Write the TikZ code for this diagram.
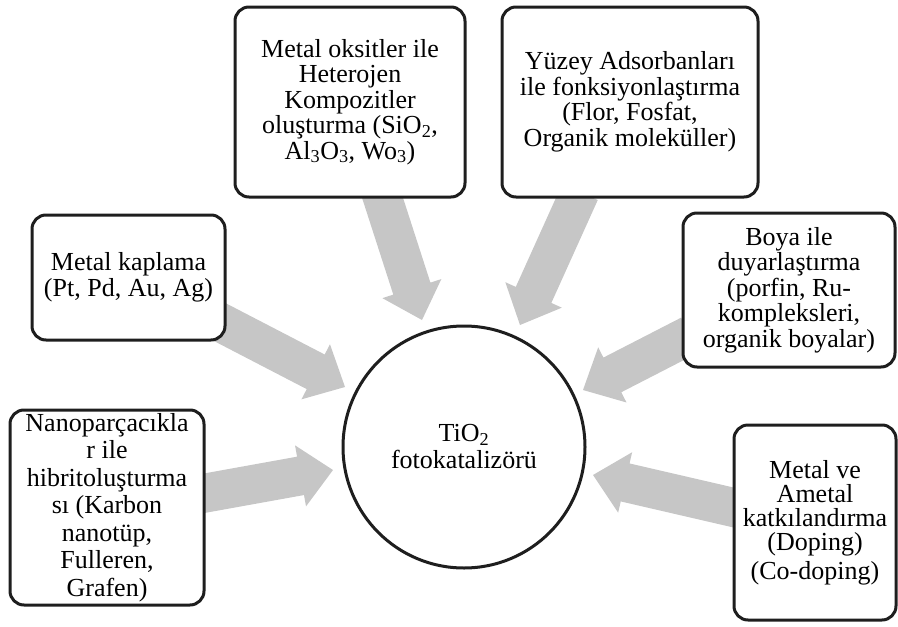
\documentclass[tikz,border=0pt]{standalone}
\usepackage{fontspec}
\setmainfont{Liberation Serif}
\usetikzlibrary{calc,backgrounds}
\definecolor{arrowgray}{RGB}{198,198,198}
\definecolor{boxline}{RGB}{30,30,30}
\newcommand\fatarrow[2]{%
  \coordinate (#2-b) at ($(#2)!33pt!(#1)$);
  \fill[arrowgray] ($(#1)!19.5pt!90:(#2)$) -- ($(#2-b)!19.5pt!90:(#2)$) -- ($(#2-b)!31pt!90:(#2)$) -- (#2) -- ($(#2-b)!31pt!-90:(#2)$) -- ($(#2-b)!19.5pt!-90:(#2)$) -- ($(#1)!19.5pt!-90:(#2)$) -- cycle;}
\tikzset{
  box/.style={draw=boxline, line width=3pt, rounded corners=14pt, fill=white,
    align=center, inner sep=0pt, font=\fontsize{26pt}{25.5pt}\selectfont},
  hub/.style={draw=boxline, line width=3pt, circle, fill=white, inner sep=0pt,
    align=center, font=\fontsize{26pt}{27pt}\selectfont}
}
\begin{document}
\begin{tikzpicture}[x=1pt,y=-1pt]
\useasboundingbox (0,0) rectangle (898,627);
\node[box, minimum width=230pt, minimum height=190pt] (M) at (350,102)
  {Metal oksitler ile\\Heterojen\\Kompozitler\\oluşturma (SiO\textsubscript{2},\\Al\textsubscript{3}O\textsubscript{3}, Wo\textsubscript{3})};
\node[box, minimum width=256pt, minimum height=190pt] (Y) at (630,102)
  {Yüzey Adsorbanları\\ile fonksiyonlaştırma\\(Flor, Fosfat,\\Organik moleküller)};
\node[box, minimum width=193pt, minimum height=125pt] (MK) at (128.5,277.5)
  {Metal kaplama\\(Pt, Pd, Au, Ag)};
\node[box, minimum width=212pt, minimum height=154pt] (B) at (789,290)
  {Boya ile\\duyarlaştırma\\(porfin, Ru-\\kompleksleri,\\organik boyalar)};
\node[box, minimum width=194pt, minimum height=195pt, font=\fontsize{26pt}{27.5pt}\selectfont] (N) at (107,507.5)
  {Nanoparçacıkla\\r ile\\hibritoluşturma\\sı (Karbon\\nanotüp,\\Fulleren,\\Grafen)};
\node[box, minimum width=162pt, minimum height=195pt, font=\fontsize{26pt}{24pt}\selectfont] (MV) at (815,522.5)
  {Metal ve\\Ametal\\katkılandırma\\(Doping)\\[5pt](Co-doping)};
\node[hub, minimum size=242pt] (C) at (464,447) {TiO\textsubscript{2}\\fotokatalizörü};
\coordinate (a1s) at (380,190); \coordinate (a1e) at (422,320);
\coordinate (a2s) at (580,192); \coordinate (a2e) at (520,325);
\coordinate (a3s) at (210,317); \coordinate (a3e) at (345,387);
\coordinate (a4s) at (690,335); \coordinate (a4e) at (583,390);
\coordinate (a5s) at (200,494); \coordinate (a5e) at (333,470);
\coordinate (a6s) at (740,509); \coordinate (a6e) at (593,475);
\begin{scope}[on background layer]
\fatarrow{a1s}{a1e}
\fatarrow{a2s}{a2e}
\fatarrow{a3s}{a3e}
\fatarrow{a4s}{a4e}
\fatarrow{a5s}{a5e}
\fatarrow{a6s}{a6e}
\end{scope}
\end{tikzpicture}
\end{document}
